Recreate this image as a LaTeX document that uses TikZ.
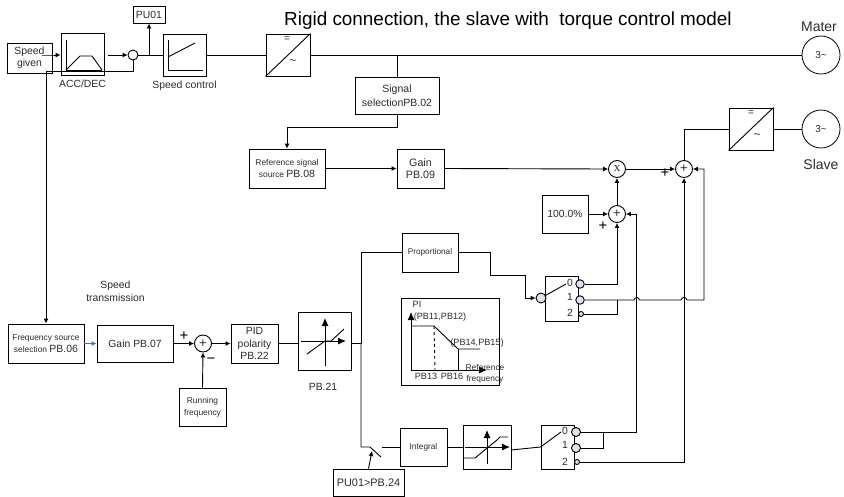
\documentclass[tikz,border=0pt]{standalone}
\usepackage{fontspec}
\setmainfont{Liberation Sans}
\newfontfamily\mulfont{Liberation Serif}
\usetikzlibrary{arrows.meta,positioning,calc}
\definecolor{portBlue}{HTML}{DDE3F0}
\definecolor{linkBlue}{HTML}{4472B8}
\definecolor{inkGray}{HTML}{2B2B2B}
\tikzset{
  blk/.style={draw, line width=0.9pt, inner sep=0pt, align=center, text=inkGray, font=\fontsize{10.4}{12.5}\selectfont},
  sumcirc/.style={circle, draw, line width=0.9pt, minimum size=17pt, inner sep=0pt, text=inkGray, font=\fontsize{13}{13}\selectfont},
  port/.style={circle, draw, line width=0.9pt, fill=portBlue, inner sep=0pt},
  motor/.style={circle, draw, line width=0.8pt, minimum size=38pt, inner sep=0pt, font=\fontsize{10}{10}\selectfont, text=inkGray},
  lbl/.style={align=center, inner sep=0pt, text=inkGray, font=\fontsize{10.4}{13}\selectfont},
  smalllbl/.style={lbl, font=\fontsize{9.1}{11}\selectfont},
  wire/.style={line width=0.9pt},
  sig/.style={line width=0.9pt, -{Latex[length=5pt,width=5pt]}},
  bigsig/.style={line width=0.9pt, -{Latex[length=8pt,width=7pt]}},
  sign/.style={inner sep=0pt, font=\fontsize{15}{15}\selectfont}
}
\begin{document}
\begin{tikzpicture}[x=1pt, y=-1pt]
  \useasboundingbox (0,0) rectangle (844,496);
  \node[font=\fontsize{18.9}{20}\selectfont, inner sep=0pt] (title) at (508,21) {Rigid connection, the slave with\ \ torque control model};
  % Top row
  \node[blk, minimum width=45pt, minimum height=30pt] (given) at (29.5,58) {Speed\\given};
  \node[blk, minimum width=43pt, minimum height=42pt] (acc) at (82.5,54) {};
  \node[lbl] (acclbl) at (82.5,83.5) {ACC/DEC};
  \draw[wire] (66,40) -- (66,70) -- (102,70);
  \draw[wire] (66,70) -- (80,56) -- (92,56) -- (102,70);
  \node[circle, draw, line width=0.9pt, minimum size=10pt, inner sep=0pt] (ramp) at (133,55) {};
  \node[blk, minimum width=32pt, minimum height=17pt] (puA) at (149,14.5) {PU01};
  \node[blk, minimum width=43pt, minimum height=42pt] (spd) at (184.5,55) {};
  \node[lbl] (spdlbl) at (184.5,86) {Speed control};
  \draw[wire] (168,40) -- (168,70) -- (203,70);
  \draw[wire] (168,57) -- (195,43);
  \node[blk, minimum width=44pt, minimum height=42pt] (invA) at (288,55) {};
  \draw[wire] (invA.south west) -- (invA.north east);
  \node[lbl, font=\fontsize{10}{10}\selectfont] (invAdc) at (287,39) {=};
  \node[lbl, font=\fontsize{12}{12}\selectfont] (invAac) at (293,62) {\textasciitilde};
  \node[motor] (mater) at (821,55) {3\textasciitilde};
  \node[lbl, font=\fontsize{14}{15}\selectfont] (materlbl) at (819,27) {Mater};
  \coordinate (givenout) at (42,55);
  \coordinate (accout) at (108,55);
  \coordinate (accunder) at (46,71);
  \coordinate (tapA) at (149,55);
  \coordinate (tapB) at (397,55);
  \draw[sig] (givenout) -- (given.east |- givenout) -- (acc.west |- givenout);
  \draw[sig] (accout) -- (ramp.west);
  \draw[wire] (accunder) -| (ramp.south);
  \draw[wire] (ramp.east) -- (spd.west);
  \draw[sig] (tapA) -- (puA.south);
  \draw[wire] (spd.east) -- (invA.west);
  \draw[wire] (invA.east) -- (mater.west);
  % Signal selection
  \node[blk, minimum width=84pt, minimum height=37pt, font=\fontsize{10.5}{13.5}\selectfont] (sel) at (397,95.5) {Signal\\selectionPB.02};
  \node[blk, minimum width=76pt, minimum height=39pt, font=\fontsize{8.4}{11.5}\selectfont] (refsrc) at (287,168.5) {Reference signal\\source {\fontsize{10.5}{11.5}\selectfont PB.08}};
  \node[blk, minimum width=47pt, minimum height=39pt, font=\fontsize{10.7}{12.5}\selectfont] (gainB) at (420.5,168.5) {Gain\\PB.09};
  \coordinate (selbend) at (397,127);
  \draw[wire] (tapB) -- (sel.north);
  \draw[sig] (sel.south) -- (selbend) -| (refsrc.north);
  \draw[sig] (refsrc.east) -- (gainB.west);
  % Slave side
  \node[sumcirc, font=\mulfont\fontsize{13}{13}\selectfont] (mul) at (617,169) {x};
  \node[sumcirc] (sumA) at (684,169) {+};
  \node[sumcirc] (sumB) at (617,214) {+};
  \node[blk, minimum width=46pt, minimum height=38pt] (hund) at (565,214) {100.0\%};
  \node[blk, minimum width=44pt, minimum height=42pt] (invB) at (751,129) {};
  \draw[wire] (invB.south west) -- (invB.north east);
  \node[lbl, font=\fontsize{10}{10}\selectfont] (invBdc) at (751,113) {=};
  \node[lbl, font=\fontsize{12}{12}\selectfont] (invBac) at (757,136) {\textasciitilde};
  \node[motor] (slave) at (821,129) {3\textasciitilde};
  \node[lbl, font=\fontsize{14}{15}\selectfont] (slavelbl) at (821,164) {Slave};
  \draw[sig] (gainB.east) -- (mul.west);
  \draw[sig] (mul.east) -- (sumA.west);
  \draw[sig] (sumB.north) -- (mul.south);
  \draw[sig] (hund.east) -- (sumB.west);
  \draw[wire] (sumA.north) |- (invB.west);
  \draw[wire] (invB.east) -- (slave.west);
  \node[sign] (plusA) at (665,173) {+};
  \node[sign] (plusB) at (603,226) {+};
  % Speed transmission row
  \node[lbl] (trans) at (115.5,291.5) {Speed\\transmission};
  \node[blk, minimum width=76pt, minimum height=39pt, font=\fontsize{8.4}{12}\selectfont] (freq) at (46,343.5) {Frequency source\\selection {\fontsize{10.5}{12}\selectfont PB.06}};
  \node[blk, minimum width=76pt, minimum height=37pt] (gainA) at (135,343.5) {Gain PB.07};
  \node[sumcirc] (sumC) at (203,343.5) {+};
  \node[blk, minimum width=47pt, minimum height=39pt] (pid) at (254.5,343.5) {PID\\polarity\\PB.22};
  \node[blk, minimum width=53pt, minimum height=58pt] (limA) at (324.5,341) {};
  \node[lbl] (limAlbl) at (323,387) {PB.21};
  \draw[bigsig] (325,366) -- (325,318);
  \draw[bigsig] (301,341) -- (346,341);
  \draw[wire] (307,354) -- (325,341) -- (331,341) -- (344,329);
  \node[blk, minimum width=47pt, minimum height=38pt, font=\fontsize{8.4}{12}\selectfont] (run) at (202.5,407) {Running\\frequency};
  \draw[sig] (accunder) -- (freq.north -| accunder);
  \draw[sig, linkBlue] (freq.east) -- (gainA.west);
  \draw[sig] (gainA.east) -- (sumC.west);
  \draw[sig] (sumC.east) -- (pid.west);
  \draw[sig] (run.north) -- (sumC.south);
  \draw[wire] (pid.east) -- (pid.east -| limA.west);
  \node[sign] (plusC) at (184,336) {+};
  \node[sign] (minusC) at (211,361) {\textminus};
  % Proportional branch
  \coordinate (branch) at (361,343.5);
  \node[blk, minimum width=56pt, minimum height=39pt, font=\fontsize{8.2}{9}\selectfont] (prop) at (430,252.5) {Proportional};
  \node[blk, minimum width=33pt, minimum height=45pt] (swA) at (561.5,298.5) {};
  \node[port, minimum size=10pt] (swAin) at (541,298) {};
  \node[port, minimum size=8.5pt] (swAa) at (580,284) {};
  \node[port, minimum size=8.5pt] (swAb) at (580,300) {};
  \node[port, minimum size=5pt] (swAc) at (581,314) {};
  \node[lbl] (swAla) at (570,283) {0};
  \node[lbl] (swAlb) at (570,296.5) {1};
  \node[lbl] (swAlc) at (570,313) {2};
  \draw[wire] (swAin) -- (566,284);
  \draw[wire] (branch -| limA.east) -- (branch);
  \draw[wire] (branch) |- (prop.west);
  \draw[sig] (prop.east) -- (490,252.5) -- (490,275) -- (525,275) |- (swAin.west);
  \draw[sig] (swAa.east) -| (sumB.south);
  \draw[wire] (swAc.east) -| (617,300);
  \draw[sig] (swAb.east) -- (634,300) .. controls (635,296.5) and (638.5,296.5) .. (639.5,300) -- (681,300) .. controls (682,296.5) and (686,296.5) .. (687,300) -- (704,300) |- (sumA.east);
  % PI curve
  \node[blk, minimum width=98pt, minimum height=87pt] (picurve) at (450,341.5) {};
  \draw[bigsig] (411,370) -- (411,312);
  \draw[bigsig] (411,370) -- (487,370);
  \draw[wire] (411,326) -- (434,326) -- (458,349) -- (480,349);
  \draw[wire] (458,349) -- (458,370);
  \draw[wire, dashed] (434,326) -- (435,370);
  \node[smalllbl] (pilbl) at (417,304) {PI};
  \node[smalllbl] (pbA) at (440,317) {(PB11,PB12)};
  \node[smalllbl] (pbB) at (477,343) {(PB14,PB15)};
  \node[smalllbl] (pbC) at (426,376) {PB13};
  \node[smalllbl] (pbD) at (452,376) {PB16};
  \node[lbl, font=\fontsize{8.4}{11}\selectfont] (pbE) at (485,373.5) {Reference\\frequency};
  % Integral branch
  \coordinate (knee) at (361,447);
  \coordinate (blade) at (381,457);
  \coordinate (contact) at (382,447);
  \coordinate (limBout) at (511,450);
  \node[blk, minimum width=47pt, minimum height=38pt, font=\fontsize{8.3}{10}\selectfont] (integ) at (423.5,447) {Integral};
  \node[blk, minimum width=48pt, minimum height=44pt] (limB) at (487,447) {};
  \draw[bigsig] (487,464) -- (487,430);
  \draw[bigsig] (465,447) -- (510,447);
  \draw[wire] (463,458) -- (475,458) -- (497,440) -- (500,437) -- (508,437);
  \node[blk, minimum width=33pt, minimum height=44pt] (swB) at (557.5,447) {};
  \node[port, minimum size=9pt] (swBa) at (576,432) {};
  \node[port, minimum size=9pt] (swBb) at (576,448) {};
  \node[port, minimum size=5pt] (swBc) at (577,462) {};
  \node[lbl] (swBla) at (565,431) {0};
  \node[lbl] (swBlb) at (565,445) {1};
  \node[lbl] (swBlc) at (565,462) {2};
  \draw[wire] (swB.west) -- (561,432);
  \draw[wire] (branch) -- (knee) -- (370,447) -- (blade);
  \draw[wire] (contact) -- (integ.west);
  \draw[wire] (integ.east) -- (limB.west);
  \draw[wire] (limBout) -- (swB.west);
  \node[blk, minimum width=71pt, minimum height=27pt, font=\fontsize{10.9}{12}\selectfont] (cmp) at (368.5,482.5) {PU01>PB.24};
  \draw[sig] (cmp.north) -- (372,451);
  \draw[sig] (swBa.east) -- (636.7,432) |- (sumB.east);
  \draw[wire] (swBb.east) -- (603,448) -- (603,432);
  \draw[sig] (swBc.east) -| (sumA.south);
\end{tikzpicture}
\end{document}
